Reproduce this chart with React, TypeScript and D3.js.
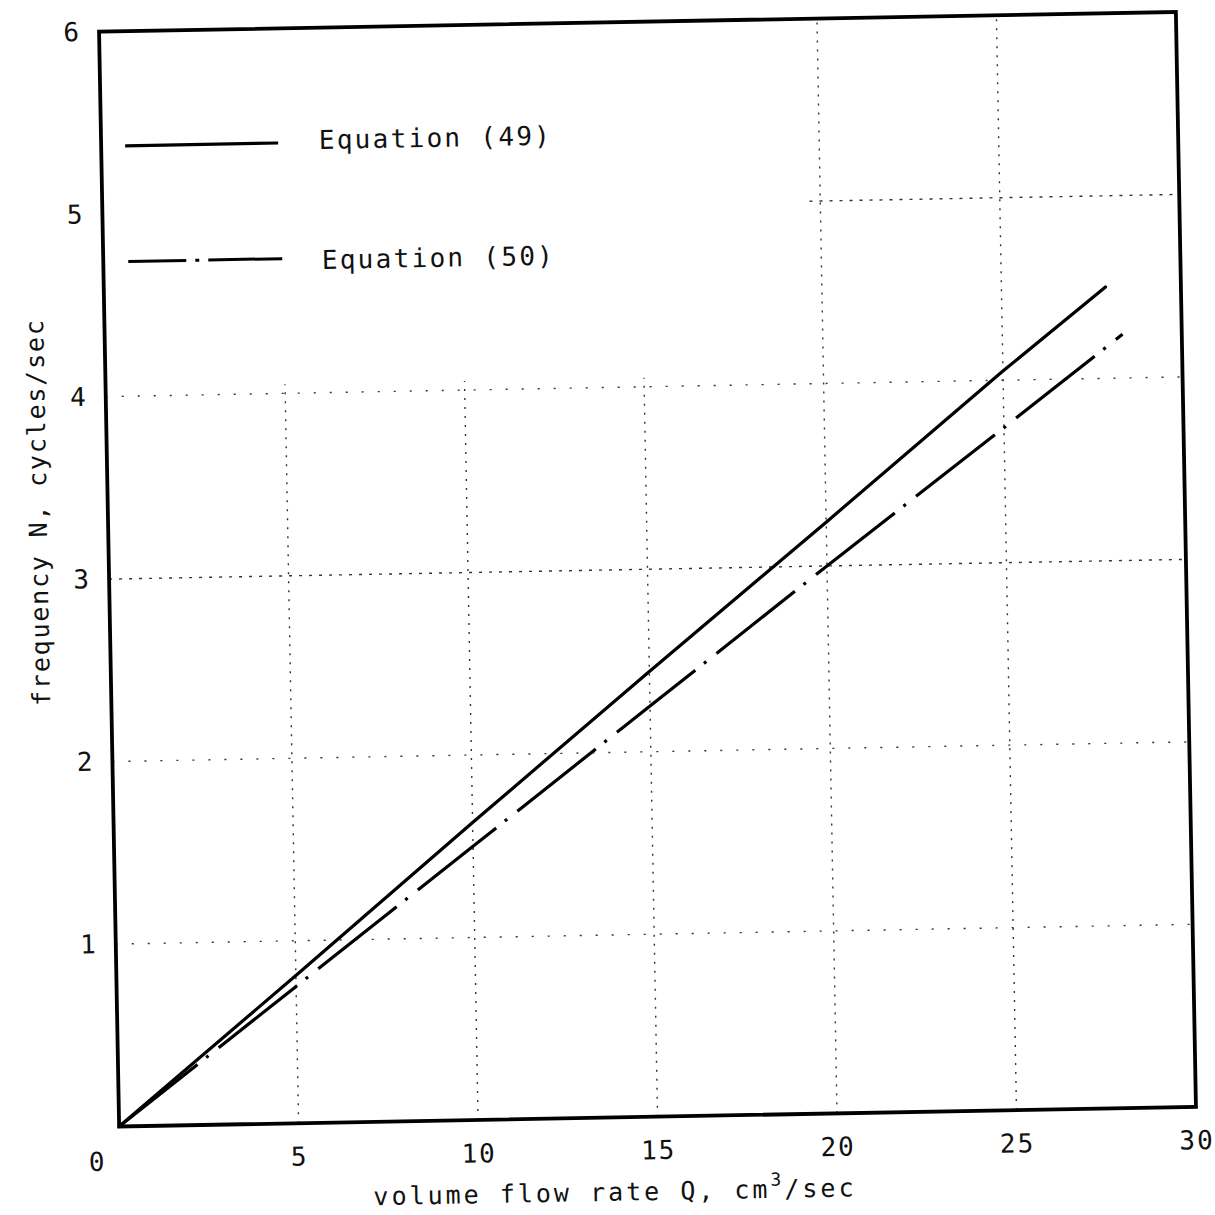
import React, { useEffect, useRef } from 'react';
import * as d3 from 'd3';

// Values
const qEq49 = [0, 5, 10, 15, 20, 25, 27.9];
const nEq49 = [0, 0.81, 1.63, 2.44, 3.24, 4.05, 4.5];
const qEq50 = [0, 5, 10, 15, 20, 25, 28.35];
const nEq50 = [0, 0.75, 1.5, 2.25, 3.0, 3.74, 4.24];

const qTicks = [5, 10, 15, 20, 25, 30];
const nTicks = [1, 2, 3, 4, 5, 6];

// partial dotted grid lines as drawn on the original
const gridQ = [5, 10, 15, 20, 25];
const gridQTop = [4.05, 4.05, 4.05, 6, 6];
const gridN = [1, 2, 3, 4, 5];
const gridNStart = [0, 0, 0, 0, 19.7];

const legendLabels = ['Equation (49)', 'Equation (50)'];

const FONT = "'DejaVu Sans Mono', monospace";

const App = () => {
  const svgRef = useRef(null);

  useEffect(() => {
    const svg = d3.select(svgRef.current);
    svg.selectAll('*').remove();

    const margin = { top: 21.75, left: 109 };
    const innerWidth = 1077;
    const innerHeight = 1095;

    const x = d3.scaleLinear().domain([0, 30]).range([0, innerWidth]);
    const y = d3.scaleLinear().domain([0, 6]).range([innerHeight, 0]);

    // the scan is tilted by about one degree
    const root = svg.append('g').attr('transform', 'rotate(-1.05, 647.5, 569.25)');
    const g = root.append('g').attr('transform', `translate(${margin.left},${margin.top})`);

    // grid
    g.selectAll('.gv')
      .data(gridQ)
      .enter().append('line')
      .attr('x1', d => x(d)).attr('x2', d => x(d))
      .attr('y1', y(0)).attr('y2', (d, i) => y(gridQTop[i]))
      .attr('stroke', '#333')
      .attr('stroke-width', 1.4)
      .attr('stroke-dasharray', '2 7');

    g.selectAll('.gh')
      .data(gridN)
      .enter().append('line')
      .attr('x1', (d, i) => x(gridNStart[i])).attr('x2', x(30))
      .attr('y1', d => y(d)).attr('y2', d => y(d))
      .attr('stroke', '#333')
      .attr('stroke-width', 1.4)
      .attr('stroke-dasharray', (d) => (d === 3 || d === 5 ? '3 7' : '2 14'));

    // curves
    const line = d3.line().x(d => x(d[0])).y(d => y(d[1]));
    g.append('path')
      .datum(qEq49.map((q, i) => [q, nEq49[i]]))
      .attr('d', line)
      .attr('fill', 'none')
      .attr('stroke', '#000')
      .attr('stroke-width', 3.2)
      .attr('stroke-linecap', 'round');

    g.append('path')
      .datum(qEq50.map((q, i) => [q, nEq50[i]]))
      .attr('d', line)
      .attr('fill', 'none')
      .attr('stroke', '#000')
      .attr('stroke-width', 3.2)
      .attr('stroke-dasharray', '100 11 3 13');

    // frame
    g.append('rect')
      .attr('x', 0).attr('y', 0)
      .attr('width', innerWidth).attr('height', innerHeight)
      .attr('fill', 'none')
      .attr('stroke', '#000')
      .attr('stroke-width', 3.8);

    // axes (labels only)
    const xAxis = g.append('g')
      .attr('transform', `translate(0,${innerHeight})`)
      .call(d3.axisBottom(x).tickValues(qTicks).tickFormat(d3.format('d')).tickSize(0).tickPadding(24));
    xAxis.select('.domain').remove();
    xAxis.selectAll('text')
      .style('font-family', FONT)
      .style('font-size', '26px')
      .style('letter-spacing', '2px')
      .attr('fill', '#111');

    const yAxis = g.append('g')
      .call(d3.axisLeft(y).tickValues(nTicks).tickFormat(d3.format('d')).tickSize(0).tickPadding(20));
    yAxis.select('.domain').remove();
    yAxis.selectAll('text')
      .style('font-family', FONT)
      .style('font-size', '26px')
      .attr('fill', '#111');

    g.append('text')
      .attr('x', x(0) - 23)
      .attr('y', innerHeight + 44)
      .attr('text-anchor', 'middle')
      .style('font-family', FONT)
      .style('font-size', '26px')
      .attr('fill', '#111')
      .text('0');

    // axis titles
    const xt = g.append('text')
      .attr('x', 603.6 - margin.left)
      .attr('y', 1200 - margin.top)
      .attr('text-anchor', 'middle')
      .style('font-family', FONT)
      .style('font-size', '25px')
      .style('letter-spacing', '3px')
      .attr('fill', '#111');
    xt.append('tspan').text('volume flow rate Q, cm');
    xt.append('tspan').attr('dy', -12).style('font-size', '18px').text('3');
    xt.append('tspan').attr('dy', 12).text('/sec');

    g.append('text')
      .attr('transform', `translate(${39 - margin.left},${501 - margin.top}) rotate(-90)`)
      .attr('text-anchor', 'middle')
      .attr('dy', '0.35em')
      .style('font-family', FONT)
      .style('font-size', '25px')
      .style('letter-spacing', '1.8px')
      .attr('fill', '#111')
      .text('frequency N, cycles/sec');

    // legend
    const legend = root.append('g');
    legend.append('line')
      .attr('x1', 133).attr('x2', 286)
      .attr('y1', 136.3).attr('y2', 136.3)
      .attr('stroke', '#000').attr('stroke-width', 3.2);
    legend.append('line')
      .attr('x1', 134).attr('x2', 288)
      .attr('y1', 252).attr('y2', 252)
      .attr('stroke', '#000').attr('stroke-width', 3)
      .attr('stroke-dasharray', '58 9 4 9 200');
    legend.selectAll('.lt')
      .data(legendLabels)
      .enter().append('text')
      .attr('x', (d, i) => (i === 0 ? 326.7 : 327.5))
      .attr('y', (d, i) => (i === 0 ? 143 : 263))
      .style('font-family', FONT)
      .style('font-size', '26px')
      .style('letter-spacing', '2.3px')
      .attr('fill', '#111')
      .text(d => d);
  }, []);

  return (
    <svg
      ref={svgRef}
      width={1215}
      height={1215}
      style={{ position: 'absolute', left: 0, top: 0, background: '#fff' }}
    ></svg>
  );
};

export default App;
